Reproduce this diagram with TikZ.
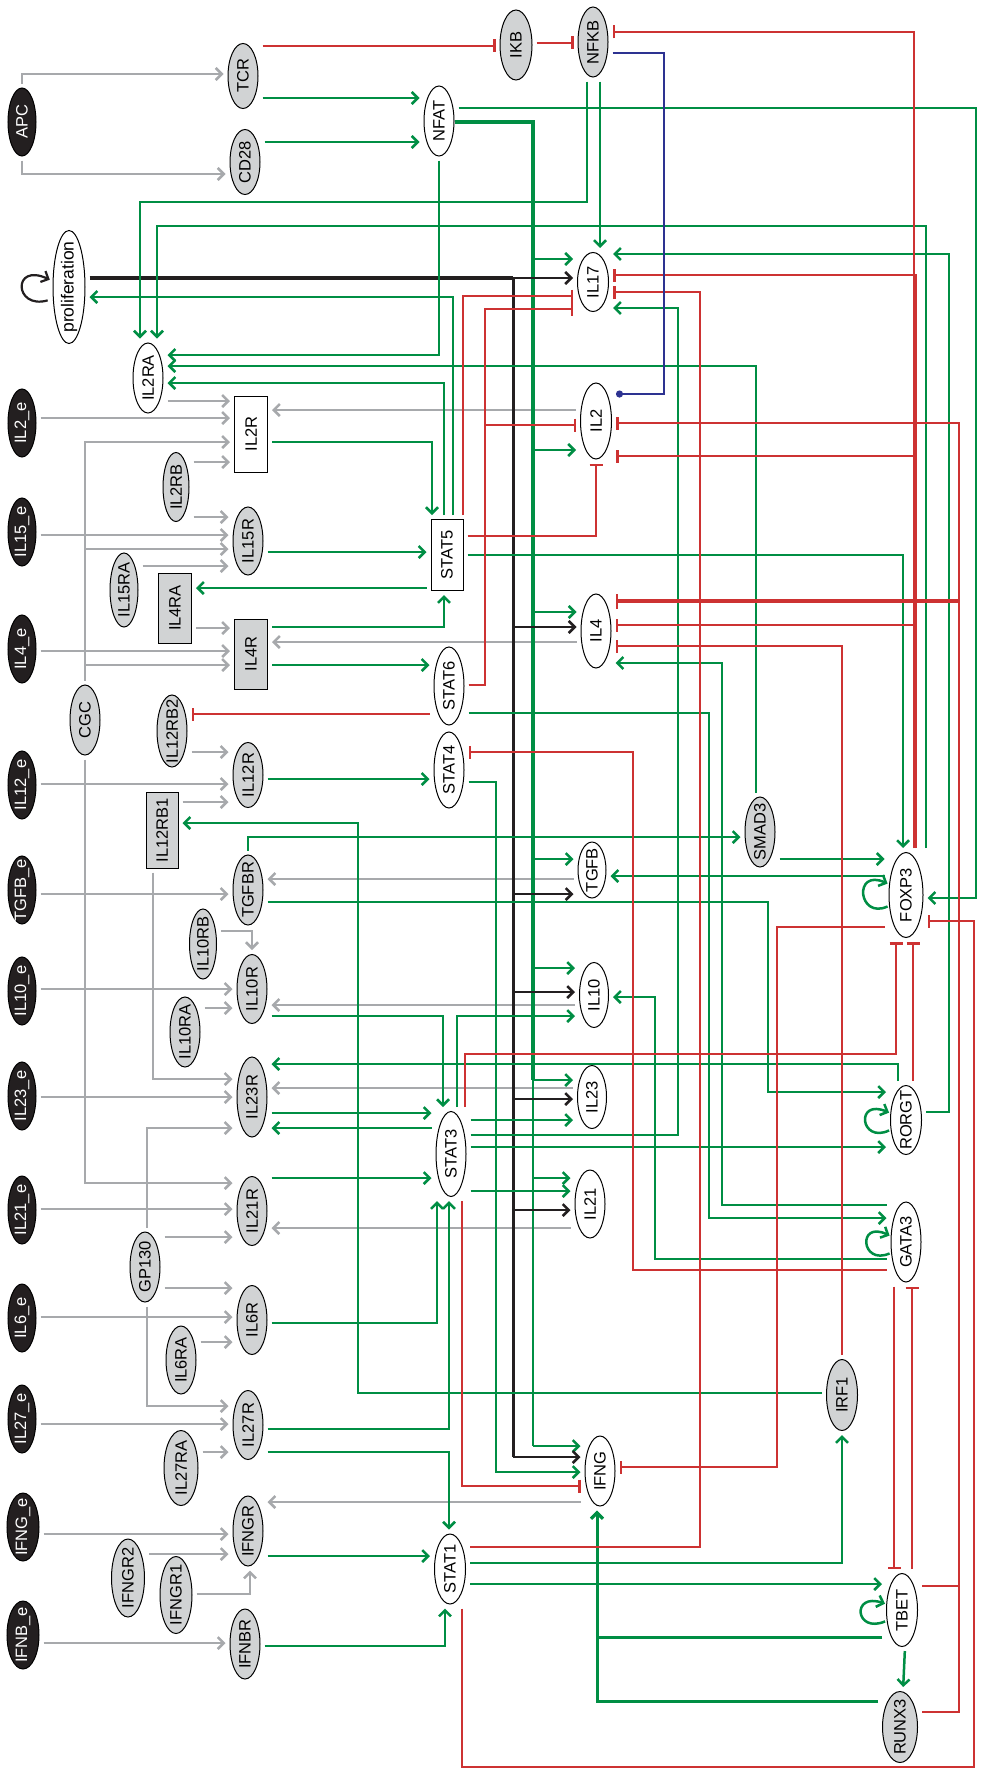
\documentclass[tikz,border=0pt]{standalone}
\usepackage{fontspec}
\setmainfont{Liberation Sans}
\usepackage{graphicx}
\usepackage{tikz}
\usetikzlibrary{shapes.geometric,arrows.meta,calc}

\definecolor{cgreen}{RGB}{0,142,68}
\definecolor{cred}{RGB}{205,50,50}
\definecolor{cgray}{RGB}{167,169,172}
\definecolor{cfill}{RGB}{209,211,212}
\definecolor{cblue}{RGB}{45,50,145}
\definecolor{cblack}{RGB}{35,31,32}

\newcommand{\vtxt}[1]{\rotatebox{90}{\makebox[0pt]{#1}}}

\tikzset{
  nd/.style={draw=black, line width=1pt, inner sep=0pt, font=\fontsize{16.5}{16.5}\selectfont},
  ext/.style={nd, ellipse, fill=cblack, text=white, minimum width=28pt, minimum height=68pt},
  rcp/.style={nd, ellipse, fill=cfill, minimum width=30pt, minimum height=70pt},
  mol/.style={nd, ellipse, fill=white, minimum width=30pt, minimum height=70pt},
  rbox/.style={nd, rectangle, fill=cfill, minimum width=33pt, minimum height=70pt},
  wbox/.style={nd, rectangle, fill=white, minimum width=33pt, minimum height=70pt},
  wire/.style={line width=2.5pt, shorten <=4pt, shorten >=4pt},
  gline/.style={draw=cgreen, line width=2.5pt},
  act/.style={wire, draw=cgreen, -{Straight Barb[length=6pt,width=12pt]}},
  inh/.style={wire, draw=cred, -{Bar[width=13pt]}},
  gry/.style={wire, draw=cgray, -{Straight Barb[length=6pt,width=12pt]}},
  bact/.style={wire, draw=cblack, -{Straight Barb[length=6pt,width=12pt]}},
  br/.style={shorten <=0pt},
}

\begin{document}
\begin{tikzpicture}[x=1pt, y=-1pt]
    \useasboundingbox (0,0) rectangle (981,1769);
    % Nodes: outside signals
    \node[ext] (APC) at (22,122) {\vtxt{APC}};
    \node[ext] (IL2e) at (22,423) {\vtxt{IL2\_e}};
    \node[ext] (IL15e) at (22,532) {\vtxt{IL15\_e}};
    \node[ext] (IL4e) at (22,649) {\vtxt{IL4\_e}};
    \node[ext] (IL12e) at (22,785) {\vtxt{IL12\_e}};
    \node[ext] (TGFBe) at (22,890) {\vtxt{TGFB\_e}};
    \node[ext] (IL10e) at (22,991) {\vtxt{IL10\_e}};
    \node[ext] (IL23e) at (22,1096) {\vtxt{IL23\_e}};
    \node[ext] (IL21e) at (22,1210) {\vtxt{IL21\_e}};
    \node[ext] (IL6e) at (22,1318) {\vtxt{IL6\_e}};
    \node[ext] (IL27e) at (22,1419) {\vtxt{IL27\_e}};
    \node[ext, minimum width=32pt] (IFNGe) at (23,1527) {\vtxt{IFNG\_e}};
    \node[ext, minimum width=32pt] (IFNBe) at (23,1635) {\vtxt{IFNB\_e}};

    % Nodes: receptors, chains and inner species
    \node[rcp, minimum height=65pt] (TCR) at (243,76) {\vtxt{TCR}};
    \node[rcp, minimum height=65pt] (CD28) at (245,162) {\vtxt{CD28}};
    \node[rcp, minimum width=32pt] (IKB) at (516,45) {\vtxt{IKB}};
    \node[rcp] (NFKB) at (593,42) {\vtxt{NFKB}};
    \node[mol] (NFAT) at (439,121) {\vtxt{NFAT}};
    \node[mol, minimum width=32pt, minimum height=113pt, font=\fontsize{17.5}{17.5}\selectfont] (prolif) at (69,287) {\vtxt{proliferation}};
    \node[mol, minimum width=31pt, minimum height=59pt] (IL17) at (593,282) {\vtxt{IL17}};
    \node[mol] (IL2RA) at (148,378) {\vtxt{IL2RA}};
    \node[wbox, minimum height=76pt] (IL2R) at (251,434) {\vtxt{IL2R}};
    \node[mol, minimum width=31pt, minimum height=76pt] (IL2) at (596,421) {\vtxt{IL2}};
    \node[rcp, minimum width=26pt, minimum height=69pt] (IL2RB) at (176,487) {\vtxt{IL2RB}};
    \node[rcp, minimum height=68pt] (IL15R) at (248,541) {\vtxt{IL15R}};
    \node[rcp, minimum width=28pt, minimum height=74pt] (IL15RA) at (124,590) {\vtxt{IL15RA}};
    \node[wbox, minimum width=32pt, minimum height=71pt] (STAT5) at (447,555) {\vtxt{STAT5}};
    \node[rbox] (IL4RA) at (175,608) {\vtxt{IL4RA}};
    \node[rbox] (IL4R) at (251,654) {\vtxt{IL4R}};
    \node[mol, minimum height=74pt] (IL4) at (596,631) {\vtxt{IL4}};
    \node[mol, minimum height=78pt] (STAT6) at (449,686) {\vtxt{STAT6}};
    \node[rcp] (CGC) at (85,720) {\vtxt{CGC}};
    \node[rcp, minimum height=72pt] (IL12RB2) at (172,731) {\vtxt{IL12RB2}};
    \node[mol, minimum height=76pt] (STAT4) at (449,770) {\vtxt{STAT4}};
    \node[rcp, minimum height=65pt] (IL12R) at (248,775) {\vtxt{IL12R}};
    \node[rbox, minimum width=32pt, minimum height=76pt] (IL12RB1) at (162,830) {\vtxt{IL12RB1}};
    \node[rcp] (SMAD3) at (760,832) {\vtxt{SMAD3}};
    \node[mol, minimum width=28pt, minimum height=56pt] (TGFB) at (592,870) {\vtxt{TGFB}};
    \node[rcp] (TGFBR) at (248,890) {\vtxt{TGFBR}};
    \node[mol, minimum width=34pt, minimum height=85pt] (FOXP3) at (906,895) {\vtxt{FOXP3}};
    \node[rcp, minimum width=27pt] (IL10RB) at (203,944) {\vtxt{IL10RB}};
    \node[rcp, minimum height=69pt] (IL10R) at (252,989) {\vtxt{IL10R}};
    \node[mol, minimum width=29pt, minimum height=65pt] (IL10) at (594,995) {\vtxt{IL10}};
    \node[rcp] (IL10RA) at (185,1032) {\vtxt{IL10RA}};
    \node[rcp, minimum height=80pt] (IL23R) at (252,1097) {\vtxt{IL23R}};
    \node[mol, minimum width=29pt, minimum height=63pt] (IL23) at (592,1097) {\vtxt{IL23}};
    \node[mol, minimum width=31pt, minimum height=69pt] (RORGT) at (906,1120) {\vtxt{RORGT}};
    \node[mol, minimum height=85pt] (STAT3) at (451,1154) {\vtxt{STAT3}};
    \node[rcp, minimum height=69pt] (IL21R) at (252,1211) {\vtxt{IL21R}};
    \node[mol, minimum height=68pt] (IL21) at (590,1204) {\vtxt{IL21}};
    \node[mol, minimum height=80pt] (GATA3) at (906,1242) {\vtxt{GATA3}};
    \node[rcp] (GP130) at (145,1267) {\vtxt{GP130}};
    \node[rcp, minimum height=69pt] (IL6R) at (252,1320) {\vtxt{IL6R}};
    \node[rcp, minimum height=68pt] (IL6RA) at (181,1360) {\vtxt{IL6RA}};
    \node[rcp, minimum width=31pt, minimum height=71pt] (IRF1) at (842,1395) {\vtxt{IRF1}};
    \node[rcp, minimum height=69pt] (IL27R) at (248,1425) {\vtxt{IL27R}};
    \node[rcp, minimum width=34pt, minimum height=75pt] (IL27RA) at (181,1468) {\vtxt{IL27RA}};
    \node[mol] (IFNG) at (600,1471) {\vtxt{IFNG}};
    \node[rcp] (IFNGR) at (248,1531) {\vtxt{IFNGR}};
    \node[mol, minimum width=31pt] (STAT1) at (450,1569) {\vtxt{STAT1}};
    \node[rcp, minimum width=33pt, minimum height=78pt] (IFNGR2) at (128,1578) {\vtxt{IFNGR2}};
    \node[rcp, minimum width=32pt, minimum height=77pt] (IFNGR1) at (176,1595) {\vtxt{IFNGR1}};
    \node[mol, minimum width=31pt, minimum height=73pt] (TBET) at (902,1610) {\vtxt{TBET}};
    \node[rcp] (IFNBR) at (245,1644) {\vtxt{IFNBR}};
    \node[rcp, minimum width=35pt, minimum height=71pt] (RUNX3) at (900,1727) {\vtxt{RUNX3}};

    % Gray arrows: ligands and chains onto receptors
    \draw[gry] (APC.north) |- (TCR.west|-0,74);
    \draw[gry] (APC.south) |- (CD28.west|-0,174);
    \draw[gry] (IL2RA.east|-0,401) -- (IL2R.west|-0,401);
    \draw[gry] (IL2e.east|-0,418) -- (IL2R.west|-0,418);
    \draw[gry] (CGC.north) |- (IL2R.west|-0,442);
    \draw[gry] (IL2RB.east|-0,462) -- (IL2R.west|-0,462);
    \draw[gry] (IL2RB.east|-0,517) -- (IL15R.west|-0,517);
    \draw[gry] (IL15e.east|-0,535) -- (IL15R.west|-0,535);
    \draw[gry] (CGC.north) |- (IL15R.west|-0,549);
    \draw[gry] (IL15RA.east|-0,566) -- (IL15R.west|-0,566);
    \draw[gry] (IL4RA.east|-0,628) -- (IL4R.west|-0,628);
    \draw[gry] (IL4e.east|-0,651) -- (IL4R.west|-0,651);
    \draw[gry] (CGC.north) |- (IL4R.west|-0,665);
    \draw[gry] (IL12RB2.east|-0,752) -- (IL12R.west|-0,752);
    \draw[gry] (IL12e.east|-0,784) -- (IL12R.west|-0,784);
    \draw[gry] (IL12RB1.east|-0,802) -- (IL12R.west|-0,802);
    \draw[gry] ([xshift=-9pt]IL12RB1.south) |- (IL23R.west|-0,1079);
    \draw[gry] (TGFBe.east|-0,894) -- (TGFBR.west|-0,894);
    \draw[gry] (IL10RB.east|-0,931) -| (IL10R.north);
    \draw[gry] (IL10e.east|-0,989) -- (IL10R.west|-0,989);
    \draw[gry] (IL10RA.east|-0,1008) -- (IL10R.west|-0,1008);
    \draw[gry] (IL23e.east|-0,1097) -- (IL23R.west|-0,1097);
    \draw[gry] ([xshift=2pt]GP130.north) |- (IL23R.west|-0,1128);
    \draw[gry] (CGC.south) |- (IL21R.west|-0,1183);
    \draw[gry] (IL21e.east|-0,1209) -- (IL21R.west|-0,1209);
    \draw[gry] (GP130.east|-0,1237) -- (IL21R.west|-0,1237);
    \draw[gry] (GP130.east|-0,1288) -- (IL6R.west|-0,1288);
    \draw[gry] (IL6e.east|-0,1317) -- (IL6R.west|-0,1317);
    \draw[gry] (IL6RA.east|-0,1342) -- (IL6R.west|-0,1342);
    \draw[gry] ([xshift=2pt]GP130.south) |- (IL27R.west|-0,1406);
    \draw[gry] (IL27e.east|-0,1424) -- (IL27R.west|-0,1424);
    \draw[gry] (IL27RA.east|-0,1452) -- (IL27R.west|-0,1452);
    \draw[gry] (IFNGe.east|-0,1534) -- (IFNGR.west|-0,1534);
    \draw[gry] (IFNGR2.east|-0,1554) -- (IFNGR.west|-0,1554);
    \draw[gry] (IFNGR1.east|-0,1594) -| ([xshift=2pt]IFNGR.south);
    \draw[gry] (IFNBe.east|-0,1643) -- (IFNBR.west|-0,1643);
    % Gray arrows: cytokines back onto receptors
    \draw[gry] (IL2.west|-0,410) -- (IL2R.east|-0,410);
    \draw[gry] (IL4.west|-0,642) -- (IL4R.east|-0,642);
    \draw[gry] (TGFB.west|-0,879) -- (TGFBR.east|-0,879);
    \draw[gry] (IL10.west|-0,1005) -- (IL10R.east|-0,1005);
    \draw[gry] (IL23.west|-0,1088) -- (IL23R.east|-0,1088);
    \draw[gry] (IL21.west|-0,1228) -- (IL21R.east|-0,1228);
    \draw[gry] (IFNG.west|-0,1502) -- (IFNGR.east|-0,1502);

    % NFAT trunk
    \coordinate (nf) at (533,122);
    \draw[gline, line width=4.5pt] (NFAT.east|-0,122) -- (nf) -- (nf|-0,1080);
    \draw[gline] (nf|-0,1080) -- (nf|-0,1446);
    \foreach \nd/\yy in {IL17/259, IL2/450, IL4/612, TGFB/859, IL10/968, IL23/1080, IL21/1178, IFNG/1446}
        \draw[act, br] (nf|-0,\yy) -- (\nd.west|-0,\yy);

    % proliferation trunk
    \coordinate (bk) at (513,278);
    \draw[draw=cblack, line width=4pt, shorten <=4pt] (prolif.east|-0,278) -- (bk);
    \draw[draw=cblack, line width=3pt] (bk) -- (bk|-0,1457);
    \foreach \nd/\yy in {IL17/278, IL4/627, TGFB/894, IL10/992, IL23/1099, IL21/1210, IFNG/1457}
        \draw[bact, br] (bk|-0,\yy) -- (\nd.west|-0,\yy);
    \draw[bact, line width=2.2pt, shorten <=5pt, shorten >=3pt] (prolif.west|-0,299) .. controls (14,310) and (12,262) .. (prolif.west|-0,281);

    % Green arrows
    \draw[act] (TCR.east|-0,98) -- (NFAT.west|-0,98);
    \draw[act] (CD28.east|-0,142) -- (NFAT.west|-0,142);
    \draw[act] (NFAT.south) |- (IL2RA.east|-0,355);
    \draw[act] (NFAT.east|-0,108) -| (976,898) -- (FOXP3.east|-0,898);
    \draw[act] ([xshift=-6pt]NFKB.south) |- (140,202) -- ([xshift=-8pt]IL2RA.north);
    \draw[act] ([xshift=7pt]NFKB.south) -- ([xshift=7pt]IL17.north);
    \draw[act] ([xshift=20pt]FOXP3.north) |- (157,226) -- ([xshift=9pt]IL2RA.north);
    \draw[act] ([xshift=-4pt]SMAD3.north) |- (IL2RA.east|-0,366);
    \draw[act] ([xshift=-3pt]STAT5.north) |- (IL2RA.east|-0,383);
    \draw[act] ([xshift=6pt]STAT5.north) |- (prolif.east|-0,297);
    \draw[act] (IL2R.east|-0,442) -| ([xshift=-15pt]STAT5.north);
    \draw[act] (IL15R.east|-0,552) -- (STAT5.west|-0,552);
    \draw[act] (STAT5.west|-0,588) -- (IL4RA.east|-0,588);
    \draw[act] (IL4R.east|-0,627) -| ([xshift=-3pt]STAT5.south);
    \draw[act] (IL4R.east|-0,665) -- (STAT6.west|-0,665);
    \draw[act] (STAT5.east|-0,555) -| ([xshift=-3pt]FOXP3.north);
    \draw[act] (IL12R.east|-0,779) -- (STAT4.west|-0,779);
    \draw[act] (STAT4.east|-0,782) -| (496,1472) -- (IFNG.west|-0,1472);
    \draw[act] (STAT6.east|-0,713) -| (709,1218) -- (GATA3.west|-0,1218);
    \draw[act] (GATA3.west|-0,1205) -| (722,663) -- (IL4.east|-0,663);
    \draw[act] (TGFBR.north) |- (SMAD3.west|-0,837);
    \draw[act] (TGFBR.east|-0,902) -| (768,1092) -- (RORGT.west|-0,1092);
    \draw[act] (IRF1.west|-0,1393) -| (358,823) -- (IL12RB1.east|-0,823);
    \draw[act] (SMAD3.east|-0,859) -- (FOXP3.west|-0,859);
    \draw[act] (FOXP3.west|-0,876) -- (TGFB.east|-0,876);
    \draw[act] (IL10R.east|-0,1016) -| ([xshift=-8pt]STAT3.north);
    \draw[act] ([xshift=6pt]STAT3.north) |- (IL10.west|-0,1016);
    \draw[act] (GATA3.west|-0,1259) -| (655,997) -- (IL10.east|-0,997);
    \draw[act] ([xshift=-8pt]RORGT.north) |- (IL23R.east|-0,1064);
    \draw[act] (IL23R.east|-0,1113) -- (STAT3.west|-0,1113);
    \draw[act] (STAT3.west|-0,1128) -- (IL23R.east|-0,1128);
    \draw[act] (STAT3.east|-0,1120) -- (IL23.west|-0,1120);
    \draw[act] (STAT3.east|-0,1135) -| (678,308) -- (IL17.east|-0,308);
    \draw[act] (STAT3.east|-0,1147) -- (RORGT.west|-0,1147);
    \draw[act] (RORGT.east|-0,1112) -| (949,254) -- (IL17.east|-0,254);
    \draw[act] (IL21R.east|-0,1178) -- (STAT3.west|-0,1178);
    \draw[act] (STAT3.east|-0,1191) -- (IL21.west|-0,1191);
    \draw[act] (IL6R.east|-0,1323) -| ([xshift=-14pt]STAT3.south);
    \draw[act] (IL27R.east|-0,1429) -| ([xshift=-2pt]STAT3.south);
    \draw[act] (IL27R.east|-0,1452) -| ([xshift=-1pt]STAT1.north);
    \draw[act] (IFNGR.east|-0,1556) -- (STAT1.west|-0,1556);
    \draw[act] (IFNBR.east|-0,1646) -| ([xshift=-5pt]STAT1.south);
    \draw[act] (STAT1.east|-0,1563) -| (IRF1.south);
    \draw[act] (STAT1.east|-0,1584) -- (TBET.west|-0,1584);
    \draw[act, line width=3pt] (TBET.west|-0,1637) -| ([xshift=-3pt]IFNG.south);
    \draw[act, line width=3pt] (RUNX3.west|-0,1701) -| ([xshift=-3pt]IFNG.south);
    \draw[act] ([xshift=3pt]TBET.south) -- ([xshift=3pt]RUNX3.north);
    % self loops
    \draw[act, shorten <=1pt, shorten >=1pt] (FOXP3.west|-0,906) .. controls (858,920) and (853,868) .. (FOXP3.west|-0,884);
    \draw[act, shorten <=1pt, shorten >=1pt] (RORGT.west|-0,1130) .. controls (860,1144) and (855,1098) .. (RORGT.west|-0,1113);
    \draw[act, shorten <=1pt, shorten >=1pt] (GATA3.west|-0,1253) .. controls (861,1266) and (857,1220) .. (GATA3.west|-0,1236);
    \draw[act, shorten <=1pt, shorten >=1pt] (TBET.west|-0,1621) .. controls (855,1634) and (851,1592) .. (TBET.west|-0,1604);

    % Red inhibitions
    \draw[inh] (TCR.east|-0,46) -- (IKB.west|-0,46);
    \draw[inh] (IKB.east|-0,43) -- (NFKB.west|-0,43);
    \draw[inh] ([xshift=8pt]FOXP3.north) |- (NFKB.east|-0,32);
    \draw[inh] ([xshift=10pt]FOXP3.north) |- (IL17.east|-0,275);
    \draw[inh] ([xshift=8pt]FOXP3.north) |- (IL2.east|-0,456);
    \draw[inh] ([xshift=10pt]FOXP3.north) |- (IL4.east|-0,625);
    \draw[inh] (STAT1.east|-0,1547) -| (700,292) -- (IL17.east|-0,292);
    \draw[inh] ([xshift=16pt]STAT5.north) |- (IL17.west|-0,296);
    \draw[inh] (STAT6.east|-0,685) -| (485,309) -- (IL17.west|-0,309);
    \draw[inh] (STAT6.east|-0,685) -| (485,425) -- (IL2.west|-0,425);
    \draw[inh] (STAT5.east|-0,536) -| (IL2.south);
    \draw[inh] (TBET.east|-0,1586) -| (959,423) -- (IL2.east|-0,423);
    \draw[inh] (RUNX3.east|-0,1712) -| (959,423) -- (IL2.east|-0,423);
    \draw[inh] (TBET.east|-0,1586) -| (959,600) -- (IL4.east|-0,600);
    \draw[inh] (RUNX3.east|-0,1712) -| (959,602) -- (IL4.east|-0,602);
    \draw[inh] (IRF1.north) |- (IL4.east|-0,646);
    \draw[inh] (STAT6.west|-0,714) -- (IL12RB2.east|-0,714);
    \draw[inh] (GATA3.west|-0,1270) -| (633,752) -- (STAT4.east|-0,752);
    \draw[inh] ([xshift=14pt]STAT3.north) |- (896,1054) -- ([xshift=-10pt]FOXP3.south);
    \draw[inh] ([xshift=7pt]RORGT.north) -- ([xshift=7pt]FOXP3.south);
    \draw[inh] (FOXP3.west|-0,927) -| (777,1467) -- (IFNG.east|-0,1467);
    \draw[inh] ([xshift=11pt]STAT3.south) |- (IFNG.west|-0,1486);
    \draw[inh] ([xshift=12pt]STAT1.south) |- (974,1767) -- (974,921) -- (FOXP3.east|-0,921);
    \draw[inh] ([xshift=-12pt]GATA3.south) -- ([xshift=-8pt]TBET.north);
    \draw[inh] ([xshift=10pt]TBET.north) -- ([xshift=6pt]GATA3.south);

    % Blue link
    \draw[wire, draw=cblue, -{Circle[length=7pt]}] (NFKB.east|-0,53) -| (664,394) -- (IL2.east|-0,394);
\end{tikzpicture}
\end{document}
